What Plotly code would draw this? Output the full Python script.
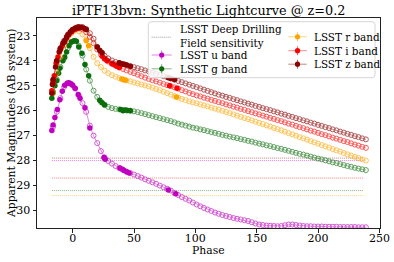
import plotly.graph_objects as go

# ---------------- data ----------------
PHASE = [-16, -13, -10, -7, -4, -1, 2, 5, 8, 11,
         14, 17, 20, 23, 26, 29, 32, 35, 38, 41,
         44, 47, 50, 53, 56, 59, 62, 65, 68, 71,
         74, 77, 80, 83, 86, 89, 92, 95, 98, 101,
         104, 107, 110, 113, 116, 119, 122, 125, 128, 131,
         134, 137, 140, 143, 146, 149, 152, 155, 158, 161,
         164, 167, 170, 173, 176, 179, 182, 185, 188, 191,
         194, 197, 200, 203, 206, 209, 212, 215, 218, 221,
         224, 227, 230, 233, 236, 239]

U_MAG = [26.65, 26.05, 25.50, 25.05, 24.90, 24.95, 25.12, 25.40, 25.70, 26.05,
         26.60, 27.00, 27.30, 27.62, 27.87, 28.02, 28.12, 28.22, 28.30, 28.38,
         28.45, 28.50, 28.56, 28.62, 28.68, 28.75, 28.81, 28.87, 28.93, 29.00,
         29.07, 29.13, 29.20, 29.30, 29.38, 29.46, 29.53, 29.60, 29.68, 29.76,
         29.83, 29.90, 29.96, 30.02, 30.08, 30.13, 30.18, 30.22, 30.26, 30.30,
         30.33, 30.36, 30.39, 30.42, 30.47, 30.52, 30.56, 30.58, 30.60, 30.61,
         30.62, 30.63, 30.62, 30.59, 30.56, 30.56, 30.58, 30.60, 30.62, 30.63,
         30.63, 30.64, 30.64, 30.64, 30.65, 30.65, 30.65, 30.65, 30.66, 30.66,
         30.66, 30.66, 30.66, 30.67, 30.67, 30.67]

G_MAG = [25.30, 24.75, 24.25, 23.90, 23.50, 23.25, 23.20, 23.40, 23.80, 24.35,
         24.80, 25.20, 25.45, 25.65, 25.78, 25.85, 25.90, 25.93, 25.95, 25.97,
         25.99, 26.00, 26.03, 26.06, 26.10, 26.14, 26.18, 26.22, 26.26, 26.30,
         26.34, 26.38, 26.42, 26.47, 26.52, 26.56, 26.60, 26.64, 26.68, 26.71,
         26.75, 26.78, 26.82, 26.86, 26.89, 26.93, 26.97, 27.00, 27.04, 27.07,
         27.10, 27.14, 27.17, 27.21, 27.24, 27.28, 27.32, 27.35, 27.39, 27.42,
         27.46, 27.50, 27.53, 27.57, 27.61, 27.65, 27.69, 27.73, 27.76, 27.80,
         27.84, 27.88, 27.92, 27.95, 27.99, 28.03, 28.07, 28.10, 28.14, 28.18,
         28.22, 28.25, 28.29, 28.32, 28.35, 28.38]

R_MAG = [25.30, 24.50, 23.85, 23.40, 23.08, 22.90, 22.80, 22.82, 22.95, 23.15,
         23.50, 23.85, 24.10, 24.25, 24.40, 24.50, 24.58, 24.64, 24.70, 24.75,
         24.79, 24.83, 24.87, 24.91, 24.95, 24.99, 25.03, 25.08, 25.13, 25.18,
         25.24, 25.30, 25.36, 25.42, 25.48, 25.53, 25.58, 25.63, 25.67, 25.71,
         25.75, 25.79, 25.83, 25.88, 25.92, 25.96, 26.01, 26.05, 26.10, 26.15,
         26.20, 26.25, 26.30, 26.34, 26.39, 26.44, 26.49, 26.54, 26.59, 26.64,
         26.69, 26.74, 26.79, 26.84, 26.90, 26.95, 27.00, 27.06, 27.11, 27.16,
         27.22, 27.27, 27.32, 27.38, 27.43, 27.48, 27.54, 27.59, 27.64, 27.70,
         27.75, 27.80, 27.85, 27.90, 27.95, 28.00]

I_MAG = [24.90, 24.05, 23.55, 23.25, 23.00, 22.83, 22.73, 22.70, 22.74, 22.86,
         23.05, 23.30, 23.55, 23.75, 23.92, 24.03, 24.12, 24.20, 24.27, 24.33,
         24.39, 24.45, 24.50, 24.56, 24.62, 24.68, 24.73, 24.78, 24.83, 24.88,
         24.93, 24.98, 25.02, 25.07, 25.12, 25.18, 25.23, 25.29, 25.34, 25.39,
         25.43, 25.48, 25.52, 25.57, 25.61, 25.66, 25.70, 25.75, 25.79, 25.84,
         25.88, 25.93, 25.97, 26.02, 26.06, 26.11, 26.15, 26.20, 26.24, 26.29,
         26.33, 26.38, 26.42, 26.47, 26.52, 26.56, 26.61, 26.66, 26.70, 26.75,
         26.80, 26.84, 26.89, 26.94, 26.98, 27.03, 27.08, 27.12, 27.17, 27.22,
         27.26, 27.31, 27.36, 27.40, 27.45, 27.49]

Z_MAG = [24.80, 24.00, 23.50, 23.20, 22.95, 22.80, 22.70, 22.65, 22.65, 22.73,
         22.90, 23.12, 23.45, 23.65, 23.80, 23.91, 23.99, 24.05, 24.10, 24.14,
         24.18, 24.22, 24.26, 24.30, 24.34, 24.39, 24.43, 24.48, 24.53, 24.57,
         24.62, 24.66, 24.71, 24.76, 24.81, 24.86, 24.91, 24.96, 25.01, 25.06,
         25.11, 25.16, 25.21, 25.26, 25.31, 25.36, 25.40, 25.45, 25.49, 25.54,
         25.58, 25.63, 25.67, 25.72, 25.76, 25.81, 25.85, 25.90, 25.94, 25.98,
         26.03, 26.07, 26.12, 26.16, 26.21, 26.25, 26.30, 26.34, 26.39, 26.43,
         26.48, 26.52, 26.57, 26.61, 26.66, 26.70, 26.75, 26.79, 26.84, 26.88,
         26.93, 26.97, 27.02, 27.06, 27.11, 27.15]

# observed epochs (filled markers)
U_OBS_PHASE = [-17, -16, -14.5, -12.5, -10.5, -8.5, -6.5, -4.5, -3, -1.5, 0, 2, 4.5, 6, 10, 14,
               25.5, 26.5, 38.5, 40.5, 42, 44, 46, 78, 84]
U_OBS_MAG = [26.80, 26.58, 26.27, 25.95, 25.56, 25.22, 24.98, 24.90, 24.88, 24.92, 24.98, 25.10,
             25.35, 25.50, 25.88, 26.70, 27.88, 27.95, 28.30, 28.35, 28.40, 28.45, 28.50, 29.18, 29.33]

G_OBS_PHASE = [-17, -16, -14.5, -13, -11.5, -10.5, -8, -6.5, -5, -3, -1, 1, 3, 5, 7.5, 10, 13,
               22, 24, 26, 39, 41, 43, 45, 47]
G_OBS_MAG = [25.50, 25.25, 25.00, 24.80, 24.50, 24.30, 24.00, 23.85, 23.65, 23.40, 23.25, 23.20,
             23.22, 23.45, 23.70, 24.15, 24.60, 25.58, 25.68, 25.76, 25.95, 26.00, 25.97, 25.99, 26.00]

R_OBS_PHASE = [11, 13, 40, 41.5, 43, 84.5]
R_OBS_MAG = [23.20, 23.40, 24.73, 24.76, 24.78, 25.45]

I_OBS_PHASE = [-17, -16, -15, -13.5, -12, -10, -8.5, -6.5, -5, -3, -1, 1, 3, 5,
               24, 26, 28, 32, 34, 36, 38, 79, 85]
I_OBS_MAG = [25.20, 24.90, 24.60, 24.10, 23.85, 23.55, 23.40, 23.25, 23.10, 22.95, 22.85, 22.77,
             22.72, 22.70, 23.82, 23.92, 24.00, 24.12, 24.16, 24.22, 24.27, 25.00, 25.10]

Z_OBS_PHASE = [-17, -16.5, -16, -14, -13, -11, -10, -8, -6.5, -5, -3.5, -2, 0, 2, 3.5, 5, 7, 9, 11,
               20, 22, 24, 38, 40, 42, 44, 47, 78, 80, 83]
Z_OBS_MAG = [25.30, 24.95, 24.75, 24.25, 24.00, 23.65, 23.50, 23.30, 23.20, 23.05, 22.95, 22.85,
             22.75, 22.70, 22.66, 22.65, 22.66, 22.70, 22.75, 23.45, 23.58, 23.68, 24.08, 24.12,
             24.14, 24.17, 24.22, 24.68, 24.71, 24.75]

BANDS = ["u", "g", "r", "i", "z"]
DDF_DEPTH = [28.0, 29.2, 29.4, 28.7, 27.9]   # LSST Deep Drilling Field sensitivity
DDF_PHASE = [-17, 237]

TITLE = "iPTF13bvn: Synthetic Lightcurve @ z=0.2"
XLABEL = "Phase"
YLABEL = "Apparent Magnitudes (AB system)"
XTICKS = [0, 50, 100, 150, 200, 250]
YTICKS = [23, 24, 25, 26, 27, 28, 29, 30]

# ---------------- styling ----------------
COLORS = {"u": "#bf00bf", "g": "#0b6e0b", "r": "#ffa500", "i": "#ff0000", "z": "#8b0000"}
SIM = {"u": U_MAG, "g": G_MAG, "r": R_MAG, "i": I_MAG, "z": Z_MAG}
OBS = {"u": (U_OBS_PHASE, U_OBS_MAG), "g": (G_OBS_PHASE, G_OBS_MAG), "r": (R_OBS_PHASE, R_OBS_MAG),
       "i": (I_OBS_PHASE, I_OBS_MAG), "z": (Z_OBS_PHASE, Z_OBS_MAG)}
for b in BANDS:
    assert len(SIM[b]) == len(PHASE), b
    assert len(OBS[b][0]) == len(OBS[b][1]), b

FONT = "DejaVu Serif"
W, H = 394, 262
PL, PR, PT, PB = 37, 380, 18, 228
TICK_FS = 11
LABEL_FS = 10.8
TITLE_FS = 12.8
LEG_FS = 10.4

fig = go.Figure()

for b, d in zip(BANDS, DDF_DEPTH):
    fig.add_trace(go.Scatter(x=DDF_PHASE, y=[d, d], mode="lines",
                             line=dict(color=COLORS[b], width=1, dash="1px,1px"),
                             opacity=0.5, showlegend=False, hoverinfo="skip"))

for b in BANDS:
    c = COLORS[b]
    fig.add_trace(go.Scatter(x=PHASE, y=SIM[b], mode="lines+markers",
                             line=dict(color=c, width=0.7),
                             marker=dict(symbol="circle-open", size=5, color=c, line=dict(width=1)),
                             opacity=0.65, showlegend=False, name="LSST %s band" % b))
    fig.add_trace(go.Scatter(x=OBS[b][0], y=OBS[b][1], mode="markers",
                             marker=dict(symbol="circle", size=5.5, color=c, line=dict(width=0)),
                             showlegend=False, name="LSST %s band" % b))

# ---------------- manual legend (pixel -> paper helpers) ----------------
def px(x):
    return (x - PL) / (PR - PL)

def py(y):
    return (PB - y) / (PB - PT)

shapes = []
annotations = []
x0, x1, y0, y1, r = 148.3, 375.0, 21.7, 77.7, 3.0
path = ("M {a},{b} L {c},{b} Q {d},{b} {d},{e} L {d},{f} Q {d},{g} {c},{g} "
        "L {a},{g} Q {h},{g} {h},{f} L {h},{e} Q {h},{b} {a},{b} Z").format(
    a=px(x0 + r), b=py(y0), c=px(x1 - r), d=px(x1), e=py(y0 + r), f=py(y1 - r),
    g=py(y1), h=px(x0))
shapes.append(dict(type="path", xref="paper", yref="paper", path=path,
                   line=dict(color="#d6d6d6", width=1), fillcolor="rgba(255,255,255,0.85)", layer="above"))

shapes.append(dict(type="line", xref="paper", yref="paper", x0=px(151.7), x1=px(171.7),
                   y0=py(37.2), y1=py(37.2), line=dict(color="#9a9a9a", width=1, dash="1px,1px"), layer="above"))
annotations.append(dict(xref="paper", yref="paper", x=px(177.5), y=py(36.3), xanchor="left", yanchor="middle",
                        text="LSST Deep Drilling<br>Field sensitivity", showarrow=False, align="left",
                        font=dict(family=FONT, size=LEG_FS, color="black")))

entries = [("u", 161.7, 55.0, 151.7, 171.7, 177.5), ("g", 161.7, 68.8, 151.7, 171.7, 177.5),
           ("r", 297.5, 36.8, 288.3, 306.7, 312.0), ("i", 297.5, 50.7, 288.3, 306.7, 312.0),
           ("z", 297.5, 64.2, 288.3, 306.7, 312.0)]
for b, cx, cy, lx0, lx1, tx in entries:
    c = COLORS[b]
    shapes.append(dict(type="line", xref="paper", yref="paper", x0=px(lx0), x1=px(lx1), y0=py(cy), y1=py(cy),
                       line=dict(color=c, width=0.8), opacity=0.6, layer="above"))
    shapes.append(dict(type="line", xref="paper", yref="paper", x0=px(cx), x1=px(cx), y0=py(cy - 4.5),
                       y1=py(cy + 4.5), line=dict(color=c, width=1), opacity=0.6, layer="above"))
    shapes.append(dict(type="circle", xref="paper", yref="paper", x0=px(cx - 2.6), x1=px(cx + 2.6),
                       y0=py(cy - 2.6), y1=py(cy + 2.6), fillcolor=c, line=dict(width=0), layer="above"))
    annotations.append(dict(xref="paper", yref="paper", x=px(tx), y=py(cy), xanchor="left", yanchor="middle",
                            text="LSST %s band" % b, showarrow=False,
                            font=dict(family=FONT, size=LEG_FS, color="black")))

# axis titles and figure title placed at their reference pixel positions
annotations.append(dict(xref="paper", yref="paper", x=px(208.5), y=py(250), xanchor="center", yanchor="middle",
                        text=XLABEL, showarrow=False, font=dict(family=FONT, size=LABEL_FS, color="black")))
annotations.append(dict(xref="paper", yref="paper", x=px(11.5), y=py(123.5), xanchor="center", yanchor="middle",
                        text=YLABEL, textangle=-90, showarrow=False,
                        font=dict(family=FONT, size=LABEL_FS, color="black")))
annotations.append(dict(xref="paper", yref="paper", x=px(208.5), y=py(10.5), xanchor="center", yanchor="middle",
                        text=TITLE, showarrow=False, font=dict(family=FONT, size=TITLE_FS, color="black")))

axis_common = dict(showline=True, mirror=True, linecolor="#222", linewidth=1, ticks="outside",
                   ticklen=3.5, tickwidth=1, tickcolor="#222", showgrid=False, zeroline=False,
                   automargin=False, tickfont=dict(family=FONT, size=TICK_FS, color="black"))

fig.update_layout(
    template="none",
    width=W, height=H, autosize=False,
    margin=dict(l=PL, r=W - PR, t=PT, b=H - PB, pad=0, autoexpand=False),
    paper_bgcolor="white", plot_bgcolor="white",
    font=dict(family=FONT, size=LABEL_FS, color="black"),
    xaxis=dict(range=[-29.1, 250.5], tickvals=XTICKS, ticklabelstandoff=-4, **axis_common),
    yaxis=dict(range=[30.7, 22.29], tickvals=YTICKS, **axis_common),
    shapes=shapes, annotations=annotations, showlegend=False,
)

# remove the browser's default 8px body margin so the figure sits at the page origin
fig.write_html("out.html", config={"displayModeBar": False, "staticPlot": True},
               post_script="document.body.style.margin='0';")
